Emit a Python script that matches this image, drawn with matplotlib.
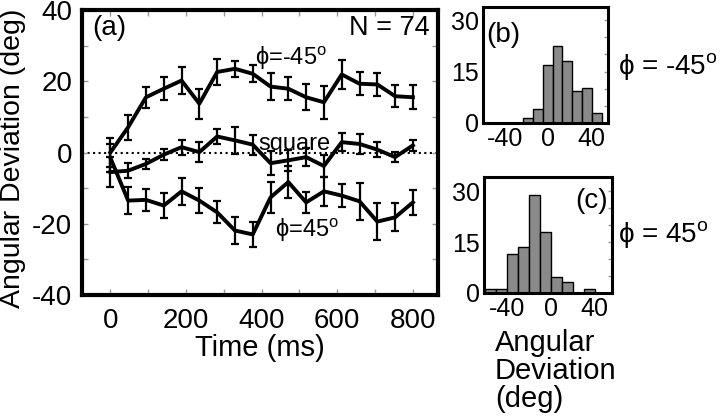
import numpy as np
import matplotlib.pyplot as plt
from matplotlib.ticker import MultipleLocator

plt.rcParams['font.family'] = ['Liberation Sans', 'DejaVu Sans']
plt.rcParams['mathtext.fontset'] = 'custom'
plt.rcParams['mathtext.rm'] = 'Liberation Sans'
plt.rcParams['mathtext.it'] = 'Liberation Sans'
plt.rcParams['axes.unicode_minus'] = False

# ---- panel (a): angular deviation vs time ----
t = np.linspace(0, 800, 18)   # ms

neg45 = [0, 7.1, 15.5, 17.9, 20.2, 13.7, 22.6, 23.5, 22.1, 18.5,
         17.9, 15.5, 14.1, 21.9, 19.3, 19.1, 15.8, 15.5]
neg45_err = [4.0, 3.5, 3.0, 3.3, 3.7, 4.2, 3.6, 2.2, 2.4, 3.8,
             3.2, 3.6, 4.7, 4.0, 3.2, 3.2, 3.1, 3.4]

square = [-5.5, -5.1, -3.2, -0.6, 1.5, 0.1, 4.5, 3.4, 2.2, -3.0,
          -2.2, -1.3, -3.8, 2.9, 2.4, 0.8, -1.3, 2.0]
square_err = [4.2, 2.1, 1.3, 1.5, 2.1, 2.9, 2.1, 3.8, 2.8, 3.3,
              3.0, 2.5, 3.0, 2.5, 2.8, 2.2, 1.4, 1.5]

pos45 = [-1.5, -13.5, -13.3, -14.9, -10.9, -13.5, -16.8, -21.9, -23.0, -12.6,
         -8.3, -14.0, -10.9, -12.1, -13.7, -19.4, -18.2, -14.0]
pos45_err = [4.0, 3.7, 3.1, 3.6, 3.8, 3.6, 3.1, 3.7, 3.6, 4.4,
             4.4, 3.0, 4.0, 3.3, 5.2, 5.1, 3.9, 3.6]

# ---- panels (b), (c): histograms of angular deviation ----
b_centers = [-18.6, -9.5, -0.5, 8.6, 17.6, 26.7, 35.7, 44.8]
b_counts = [1.5, 3.9, 16.9, 22.4, 18.1, 9.4, 10.3, 2.7]
b_width = 9.05

c_centers = [-55, -45, -35, -25, -15, -5, 5, 15, 25, 35]
c_counts = [1.2, 1.2, 11.5, 13.6, 28.8, 18.0, 4.6, 3.2, 0, 1.2]
c_width = 10

W, H = 720, 419


def px_axes(fig, x0, y0, x1, y1):
    # axes from pixel box (top-left origin)
    return fig.add_axes([x0 / W, 1 - y1 / H, (x1 - x0) / W, (y1 - y0) / H])


fig = plt.figure(figsize=(7.2, 4.19), dpi=100)

# ========================
# panel (a)
# ========================
ax = px_axes(fig, 82, 10, 437.5, 295)
ax.axhline(0, color='k', ls=':', lw=1.5, zorder=1)
for y, e in [(neg45, neg45_err), (square, square_err), (pos45, pos45_err)]:
    ax.errorbar(t, y, yerr=e, color='k', lw=2.8, elinewidth=1.6,
                capsize=3.2, capthick=1.6, zorder=3)

ax.set_xlim(-75, 865)
ax.set_ylim(-40, 40)
ax.set_xticks([0, 200, 400, 600, 800])
ax.set_yticks([-40, -20, 0, 20, 40])
ax.xaxis.set_minor_locator(MultipleLocator(100))
ax.yaxis.set_minor_locator(MultipleLocator(10))
ax.tick_params(which='both', direction='in', top=True, right=True,
               length=4, width=1, color='#999999')
ax.tick_params(axis='x', labelsize=20, pad=9)
ax.tick_params(axis='y', labelsize=20, pad=7)
for s in ax.spines.values():
    s.set_linewidth(3)

ax.set_xlabel('Time (ms)', fontsize=21, labelpad=0)
ax.set_ylabel('Angular Deviation (deg)', fontsize=20.5)
ax.yaxis.set_label_coords(-0.158, 0.48)

ax.text(0.028, 0.937, '(a)', transform=ax.transAxes, fontsize=20, va='center')
ax.text(0.979, 0.937, 'N = 74', transform=ax.transAxes, fontsize=19.5,
        va='center', ha='right')
ax.text(383, 26.5, r'$\mathrm{\phi}$=-45$^{\rm o}$', fontsize=17, va='center')
ax.text(391, 2.5, 'square', fontsize=17, va='center')
ax.text(436, -21.9, r'$\mathrm{\phi}$=45$^{\rm o}$', fontsize=17, va='center')

# ========================
# panels (b) and (c)
# ========================
hist_boxes = [(482.7, 6.7, 608.3, 122.7), (484, 177.5, 611.7, 293)]
hist_data = [(b_centers, b_counts, b_width), (c_centers, c_counts, c_width)]
tags = ['(b)', '(c)']
for box, (cen, cnt, wd), tag in zip(hist_boxes, hist_data, tags):
    hx = px_axes(fig, *box)
    hx.bar(cen, cnt, width=wd, color='#8a8a8a', edgecolor='k', linewidth=1)
    hx.set_xlim(-60.6, 55.5)
    hx.set_ylim(0, 34)
    hx.set_xticks([-40, 0, 40])
    hx.set_yticks([0, 15, 30])
    hx.yaxis.set_minor_locator(MultipleLocator(5))
    hx.tick_params(which='both', direction='in', right=True, left=False,
                   bottom=False, length=3, width=1, color='#999999')
    hx.tick_params(axis='both', labelsize=18, pad=3)
    for s in hx.spines.values():
        s.set_linewidth(2.2)
    if tag == '(b)':
        hx.text(0.03, 0.76, tag, transform=hx.transAxes, fontsize=20, va='center')
    else:
        hx.text(0.97, 0.8, tag, transform=hx.transAxes, fontsize=20,
                va='center', ha='right')

fig.text(618 / W, 1 - 66 / H, r'$\mathrm{\phi}$ = -45$^{\rm o}$', fontsize=20, va='center')
fig.text(618 / W, 1 - 234 / H, r'$\mathrm{\phi}$ = 45$^{\rm o}$', fontsize=20, va='center')
fig.text(495 / W, 1 - 329 / H, 'Angular\nDeviation\n(deg)', fontsize=21,
         va='top', ha='left', linespacing=1.0)

fig.savefig('out.png', dpi=100)
